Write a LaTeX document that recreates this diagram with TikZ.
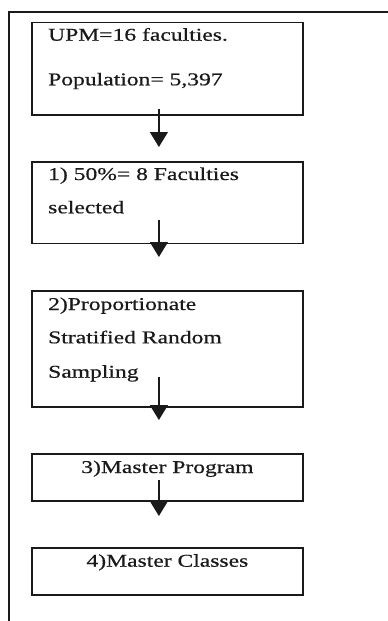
\documentclass[tikz,border=0pt]{standalone}
\usepackage{fontspec}
\setmainfont{Liberation Serif}[FakeStretch=1.31,FakeBold=0.6]
\usetikzlibrary{arrows.meta,calc}
\definecolor{ink}{HTML}{1A1A1A}
\tikzset{
  stepbox/.style={draw=ink, line width=1.8pt, rectangle, inner sep=0pt, minimum width=271pt, anchor=north west},
  txt/.style={inner sep=0pt, text=ink, font=\fontsize{18}{20}\selectfont},
  arr/.style={draw=ink, line width=1.3pt, -{Triangle[width=18pt,length=15pt]}},
  frame/.style={draw=ink, line width=1.6pt}
}
\begin{document}
\begin{tikzpicture}[x=1pt,y=1pt]
\useasboundingbox (0,0) rectangle (388,-621);
% outer frame (top and left only)
\draw[frame] (388,-12) -- (9,-12) -- (9,-621);
% boxes
\node[stepbox, minimum height=92.5pt] (b1) at (31,-21.5) {};
\node[stepbox, minimum height=81.5pt] (b2) at (31,-161) {};
\node[stepbox, minimum height=116pt] (b3) at (31,-290) {};
\node[stepbox, minimum height=47pt] (b4) at (31,-453) {};
\node[stepbox, minimum height=47pt] (b5) at (31,-547) {};
% texts
\node[txt, anchor=base west] (t1a) at ([xshift=17pt,yshift=-19.2pt]b1.north west) {UPM=16 faculties.};
\node[txt, anchor=base west] (t1b) at ([xshift=17pt,yshift=-63.8pt]b1.north west) {Population= 5,397};
\node[txt, anchor=base west] (t2a) at ([xshift=17pt,yshift=-19pt]b2.north west) {1) 50\%= 8 Faculties};
\node[txt, anchor=base west] (t2b) at ([xshift=17pt,yshift=-52.3pt]b2.north west) {selected};
\node[txt, anchor=base west] (t3a) at ([xshift=17pt,yshift=-20pt]b3.north west) {2)Proportionate};
\node[txt, anchor=base west] (t3b) at ([xshift=17pt,yshift=-53.3pt]b3.north west) {Stratified Random};
\node[txt, anchor=base west] (t3c) at ([xshift=17pt,yshift=-87.7pt]b3.north west) {Sampling};
\node[txt, anchor=base] (t4) at ([yshift=-20pt]b4.north) {3)Master Program};
\node[txt, anchor=base] (t5) at ([yshift=-19.7pt]b5.north) {4)Master Classes};
% arrows
\draw[arr] ([xshift=-8.5pt,yshift=7pt]b1.south) -- ([xshift=-8.5pt,yshift=14pt]b2.north);
\draw[arr] ([xshift=-8.5pt,yshift=24.5pt]b2.south) -- ([xshift=-8.5pt,yshift=33pt]b3.north);
\draw[arr] ([xshift=-8.5pt,yshift=31pt]b3.south) -- ([xshift=-8.5pt,yshift=33pt]b4.north);
\draw[arr] ([xshift=-8.5pt,yshift=22pt]b4.south) -- ([xshift=-8.5pt,yshift=31pt]b5.north);
\end{tikzpicture}
\end{document}
